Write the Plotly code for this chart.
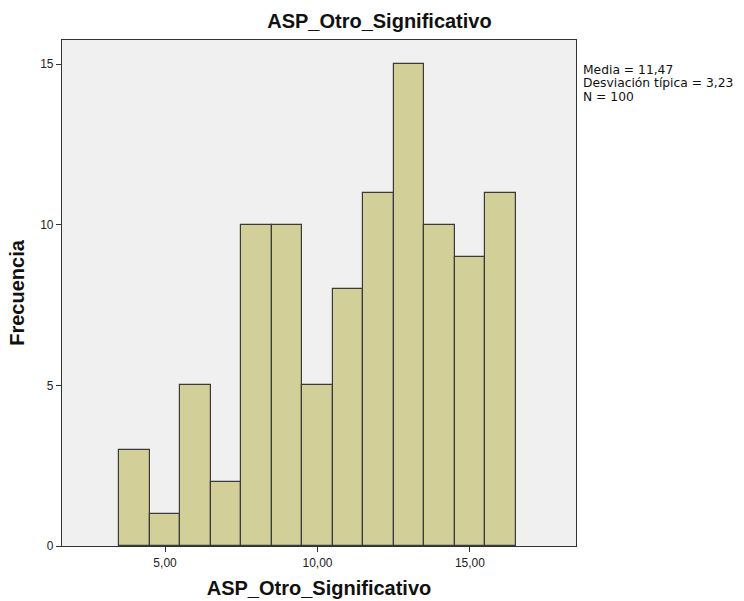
import plotly.graph_objects as go

# Frequency of each score value
values = [4, 5, 6, 7, 8, 9, 10, 11, 12, 13, 14, 15, 16]
counts = [3, 1, 5, 2, 10, 10, 5, 8, 11, 15, 10, 9, 11]

x_tickvals = [5, 10, 15]
x_ticktext = ["5,00", "10,00", "15,00"]
y_tickvals = [0, 5, 10, 15]
y_ticktext = ["0", "5", "10", "15"]

stats_lines = ["Media = 11,47", "Desviación típica = 3,23", "N = 100"]

fig = go.Figure(
    go.Bar(
        x=values,
        y=counts,
        width=1,
        marker=dict(color="#D3CF98", line=dict(color="#3A3A3A", width=1.2)),
        hoverinfo="x+y",
    )
)

axis_font = dict(family="Liberation Sans Narrow, Arial Narrow, sans-serif", size=12, color="#222")
title_font = dict(family="Liberation Sans Narrow, Arial Narrow, sans-serif", size=20, color="#111")

plot_h = 601 - 40 - 55

# Summary statistics, one line each, stacked at the right of the plot area
annotations = []
for i, line in enumerate(stats_lines):
    annotations.append(
        dict(
            text=line,
            xref="paper",
            yref="paper",
            x=1.01,
            y=(546 - 70 - i * 13.5) / plot_h,
            xanchor="left",
            yanchor="middle",
            align="left",
            showarrow=False,
            font=dict(family="DejaVu Sans, sans-serif", size=12.3, color="#111"),
        )
    )

fig.update_layout(
    width=744,
    height=601,
    margin=dict(l=62, r=168, t=40, b=55),
    paper_bgcolor="white",
    plot_bgcolor="#F0F0F0",
    showlegend=False,
    bargap=0,
    title=dict(
        text="<b>ASP_Otro_Significativo</b>",
        x=0.51,
        xanchor="center",
        y=0.965,
        yanchor="middle",
        font=title_font,
    ),
    xaxis=dict(
        range=[1.62, 18.48],
        tickvals=x_tickvals,
        ticktext=x_ticktext,
        ticks="outside",
        ticklen=5,
        tickcolor="#333",
        showline=True,
        linecolor="#333",
        linewidth=1.2,
        mirror=True,
        showgrid=False,
        zeroline=False,
        automargin=False,
        tickfont=axis_font,
        title=dict(text="<b>ASP_Otro_Significativo</b>", font=title_font, standoff=12),
    ),
    yaxis=dict(
        range=[0, 15.75],
        tickvals=y_tickvals,
        ticktext=y_ticktext,
        ticks="outside",
        ticklen=5,
        tickcolor="#333",
        showline=True,
        linecolor="#333",
        linewidth=1.2,
        mirror=True,
        showgrid=False,
        zeroline=False,
        automargin=False,
        tickfont=axis_font,
        title=dict(text="<b>Frecuencia</b>", font=title_font, standoff=10),
    ),
    annotations=annotations,
)

fig.write_html("out.html")
